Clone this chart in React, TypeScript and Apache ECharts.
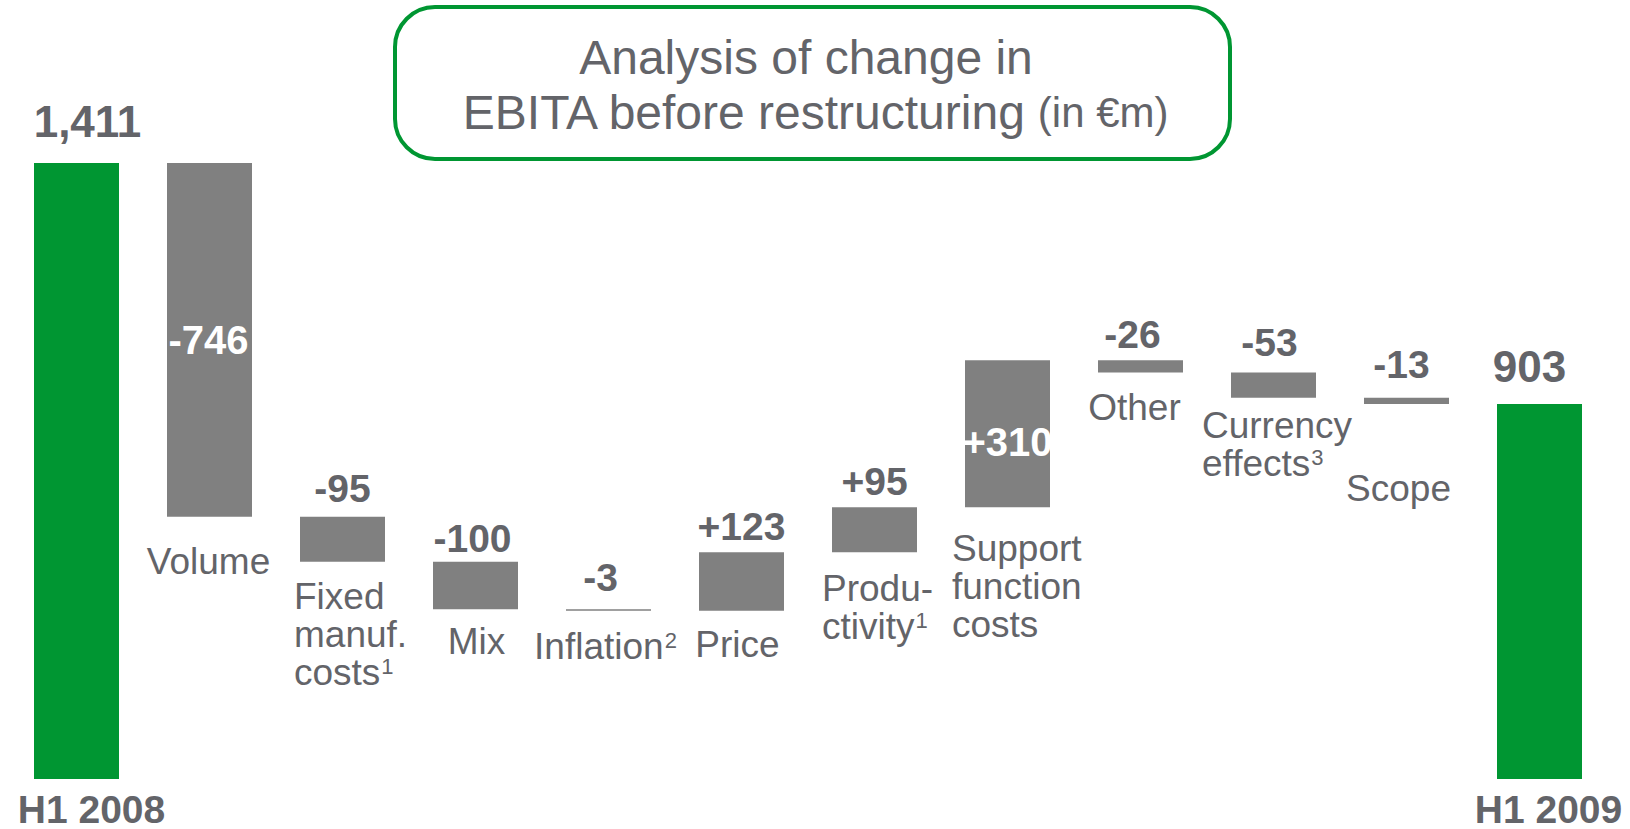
import React, { useEffect, useRef } from 'react';
import * as echarts from 'echarts';

// ---- data ----
const categories = [
  'H1 2008', 'Volume', 'Fixed manuf. costs', 'Mix', 'Inflation', 'Price',
  'Productivity', 'Support function costs', 'Other', 'Currency effects', 'Scope', 'H1 2009',
];
const values = [1411, -746, -95, -100, -3, 123, 95, 310, -26, -53, -13, 903];
const isTotal = [true, false, false, false, false, false, false, false, false, false, false, true];
const valueLabels = ['1,411', '-746', '-95', '-100', '-3', '+123', '+95', '+310', '-26', '-53', '-13', '903'];
const categoryLabels = [
  '', 'Volume', 'Fixed\nmanuf.\ncosts{s|1}', 'Mix', 'Inflation{s|2}', 'Price',
  'Produ-\nctivity{s|1}', 'Support\nfunction\ncosts', 'Other', 'Currency\neffects{s|3}', 'Scope', '',
];
const titleLine1 = 'Analysis of change in';
const titleLine2 = 'EBITA before restructuring';
const titleUnit = '(in €m)';

// ---- styling ----
const GREEN = '#009632';
const GRAY_BAR = '#808080';
const TEXT = '#636469';
const FONT = '"Liberation Sans", Arial, sans-serif';

// label placement styling per category (relative to bar)
const catPlacement: any[] = [
  null,
  { x: '50%', dy: 26, align: 'center', ox: -1 },
  { x: -6, dy: 16, align: 'left', ox: 0 },
  { x: '50%', dy: 13, align: 'center', ox: 1 },
  { x: '50%', dy: 17, align: 'center', ox: -3 },
  { x: '50%', dy: 15, align: 'center', ox: -4 },
  { x: -10, dy: 17, align: 'left', ox: 0 },
  { x: -13, dy: 22, align: 'left', ox: 0 },
  { x: '50%', dy: 16, align: 'center', ox: -6 },
  { x: -29, dy: 9, align: 'left', ox: 0 },
  { x: '50%', dy: 66, align: 'center', ox: -8 },
  null,
];
const valueDistance = [20, 0, 8, 3, 12, 6, 6, 0, 6, 10, 13, 15];
const valueOffsetX = [11, -1, 0, -3, -8, 0, 0, 0, -8, -4, -5, -10];

export default function App() {
  const ref = useRef<HTMLDivElement>(null);

  useEffect(() => {
    if (!ref.current) return;
    const chart = echarts.init(ref.current, null, { renderer: 'svg' });

    const base: number[] = [];
    const delta: number[] = [];
    let running = 0;
    values.forEach((v, i) => {
      if (isTotal[i]) {
        base.push(0);
        delta.push(v);
        running = v;
      } else if (v >= 0) {
        base.push(running);
        delta.push(v);
        running += v;
      } else {
        running += v;
        base.push(running);
        delta.push(-v);
      }
    });

    const last = categories.length - 1;

    const option: any = {
      animation: false,
      textStyle: { fontFamily: FONT },
      grid: {
        left: 10, right: 24, top: 163, bottom: 50,
        containLabel: false, outerBoundsMode: 'none',
      },
      xAxis: {
        type: 'category',
        data: categories,
        axisLine: { show: false },
        axisTick: { show: false },
        splitLine: { show: false },
        axisLabel: {
          interval: 0,
          margin: 10,
          hideOverlap: false,
          formatter: (v: string, i: number) =>
            i === 0 ? `{a|${v}}` : i === last ? `{b|${v}}` : '',
          rich: {
            a: { fontSize: 39, fontWeight: 'bold', color: TEXT, fontFamily: FONT, padding: [0, 0, 0, 30], lineHeight: 40 },
            b: { fontSize: 39, fontWeight: 'bold', color: TEXT, fontFamily: FONT, padding: [0, 0, 0, 18], lineHeight: 40 },
          },
        },
      },
      yAxis: { type: 'value', min: 112, max: 1411, show: false },
      series: [
        {
          type: 'bar',
          stack: 'w',
          barWidth: 85,
          clip: true,
          silent: true,
          itemStyle: { color: 'rgba(0,0,0,0)' },
          data: base.map((b, i) => {
            const p = catPlacement[i];
            if (!p) return { value: b, label: { show: false } };
            return {
              value: b,
              label: {
                show: true,
                position: [p.x, p.dy],
                align: p.align,
                verticalAlign: 'top',
                offset: [p.ox, 0],
                formatter: categoryLabels[i],
                fontSize: 37,
                lineHeight: 38,
                color: TEXT,
                fontFamily: FONT,
                rich: {
                  s: { fontSize: 22, lineHeight: 22, verticalAlign: 'top', color: TEXT, fontFamily: FONT, padding: [2, 0, 0, 1] },
                },
              },
            };
          }),
        },
        {
          type: 'bar',
          stack: 'w',
          barWidth: 85,
          clip: true,
          silent: true,
          data: delta.map((d, i) => {
            const inside = i === 1 || i === 7;
            return {
              value: d,
              itemStyle: { color: isTotal[i] ? GREEN : GRAY_BAR },
              label: {
                show: true,
                position: inside ? 'inside' : 'top',
                distance: valueDistance[i],
                offset: [valueOffsetX[i], i === 7 ? 8 : 0],
                formatter: valueLabels[i],
                fontSize: isTotal[i] ? 44 : inside ? 40 : 39,
                lineHeight: isTotal[i] ? 44 : 40,
                fontWeight: 'bold',
                color: inside ? '#ffffff' : TEXT,
                fontFamily: FONT,
              },
            };
          }),
        },
      ],
      graphic: [
        {
          type: 'rect',
          shape: { x: 395, y: 7, width: 835, height: 152, r: 40 },
          style: { fill: 'none', stroke: GREEN, lineWidth: 4 },
          silent: true,
        },
        {
          type: 'text',
          x: 806,
          y: 57,
          style: {
            text: titleLine1,
            fontSize: 48,
            fontFamily: FONT,
            fill: TEXT,
            align: 'center',
            verticalAlign: 'middle',
          },
        },
        {
          type: 'text',
          x: 815,
          y: 112,
          style: {
            text: `{m|${titleLine2}}{u|\u00a0${titleUnit}}`,
            fontFamily: FONT,
            fill: TEXT,
            align: 'center',
            verticalAlign: 'middle',
            rich: {
              m: { fontSize: 48, fontFamily: FONT, fill: TEXT },
              u: { fontSize: 42, fontFamily: FONT, fill: TEXT },
            },
          },
        },
      ],
    };

    chart.setOption(option);
    return () => chart.dispose();
  }, []);

  return (
    <div
      ref={ref}
      style={{ position: 'absolute', left: 0, top: 0, width: 1630, height: 829 }}
    />
  );
}
